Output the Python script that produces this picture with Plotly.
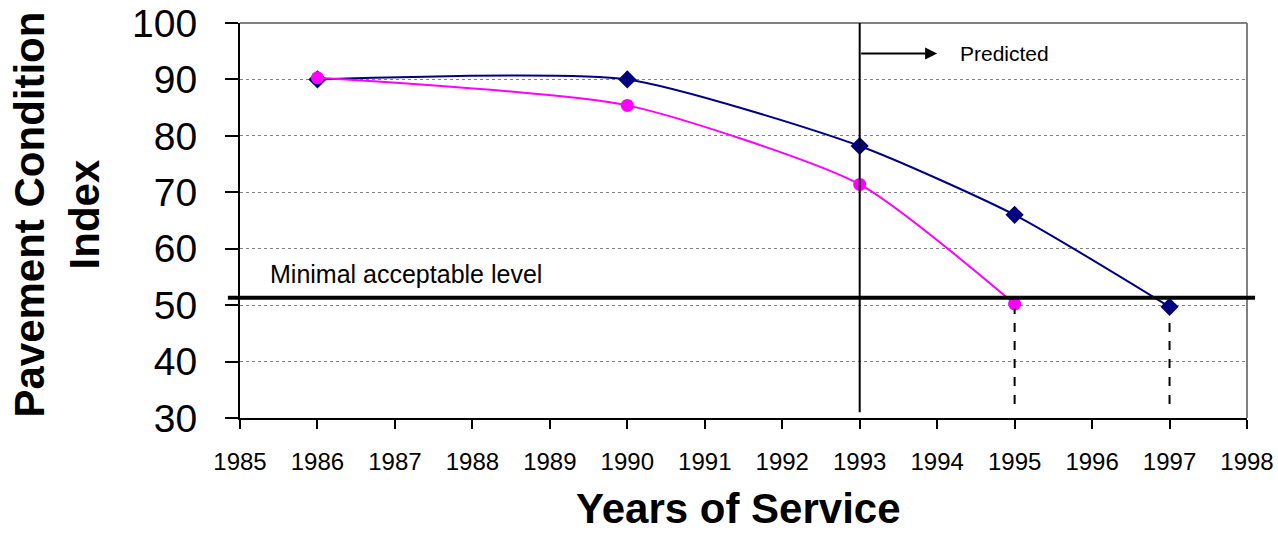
import plotly.graph_objects as go

# ---- data ----
years_a = [1986, 1990, 1993, 1995, 1997]
pci_a = [90.0, 90.0, 78.2, 66.0, 49.7]
years_b = [1986, 1990, 1993, 1995]
pci_b = [90.3, 85.4, 71.4, 50.2]
x_ticks = list(range(1985, 1999))
y_ticks = [30, 40, 50, 60, 70, 80, 90, 100]
min_level = 51.3
predict_year = 1993
drop_years = [1995, 1997]
drop_values = [50.2, 49.7]

FONT = "Arial"

fig = go.Figure()

fig.add_trace(go.Scatter(
    x=years_a, y=pci_a, mode="lines+markers",
    line=dict(color="#000080", width=2, shape="spline", smoothing=0.6),
    marker=dict(symbol="diamond", size=14, color="#000080"),
    cliponaxis=False, showlegend=False, hoverinfo="x+y"))

fig.add_trace(go.Scatter(
    x=years_b, y=pci_b, mode="lines+markers",
    line=dict(color="#FF00FF", width=2, shape="spline", smoothing=0.6),
    marker=dict(symbol="circle", size=13, color="#FF00FF"),
    cliponaxis=False, showlegend=False, hoverinfo="x+y"))

shapes = []
# plot area border (top and right), gray
shapes.append(dict(type="line", xref="paper", yref="paper", x0=0, x1=1, y0=1, y1=1,
                   line=dict(color="#808080", width=2)))
shapes.append(dict(type="line", xref="paper", yref="paper", x0=1, x1=1, y0=0, y1=1,
                   line=dict(color="#808080", width=2)))
# minimal acceptable level
shapes.append(dict(type="line", xref="paper", yref="y", x0=-0.012, x1=1.008,
                   y0=min_level, y1=min_level, line=dict(color="black", width=4)))
# predicted divider
shapes.append(dict(type="line", xref="x", yref="y", x0=predict_year, x1=predict_year,
                   y0=31, y1=100, line=dict(color="black", width=2)))
# dashed drops
for yr, v in zip(drop_years, drop_values):
    shapes.append(dict(type="line", xref="x", yref="y", x0=yr, x1=yr,
                       y0=32.5, y1=v - 0.8, line=dict(color="black", width=2, dash="dash")))

annotations = [
    dict(x=predict_year + 1.0, y=94.6, ax=predict_year, ay=94.6, xref="x", yref="y",
         axref="x", ayref="y", text="", showarrow=True, arrowhead=2, arrowsize=1.2,
         arrowwidth=2, arrowcolor="black"),
    dict(x=predict_year + 1.27, y=94.6, xref="x", yref="y", text="Predicted",
         showarrow=False, xanchor="left", yanchor="middle",
         font=dict(family=FONT, size=21, color="black")),
    dict(x=1985.36, y=55.6, xref="x", yref="y", text="Minimal acceptable level",
         showarrow=False, xanchor="left", yanchor="middle",
         font=dict(family=FONT, size=25, color="black")),
    dict(x=0.495, y=-0.23, xref="paper", yref="paper", text="<b>Years of Service</b>",
         showarrow=False, xanchor="center", yanchor="middle",
         font=dict(family=FONT, size=42, color="black")),
    dict(x=-0.1817, y=0.515, xref="paper", yref="paper",
         text="<b>Pavement Condition<br>Index</b>", textangle=-90,
         showarrow=False, xanchor="center", yanchor="middle",
         font=dict(family=FONT, size=42, color="black")),
]

fig.update_layout(
    width=1278, height=541,
    margin=dict(l=240, r=31, t=23, b=123),
    paper_bgcolor="white", plot_bgcolor="white",
    font=dict(family=FONT, color="black"),
    shapes=shapes, annotations=annotations,
    xaxis=dict(range=[1985, 1998], tickvals=x_ticks, ticktext=[str(t) for t in x_ticks],
               automargin=False,
               showgrid=False, zeroline=False, showline=True, linecolor="black", linewidth=2,
               ticks="outside", ticklen=9, tickwidth=2, tickcolor="black",
               ticklabelstandoff=12,
               tickfont=dict(family=FONT, size=24, color="black")),
    yaxis=dict(range=[30, 100], tickvals=y_ticks, automargin=False,
               showgrid=True, gridcolor="#808080", gridwidth=1, griddash="dot",
               zeroline=False, showline=True, linecolor="black", linewidth=2,
               ticks="outside", ticklen=13, tickwidth=2, tickcolor="black",
               ticklabelstandoff=20,
               tickfont=dict(family=FONT, size=39, color="black")),
)

fig.write_html("out.html")
